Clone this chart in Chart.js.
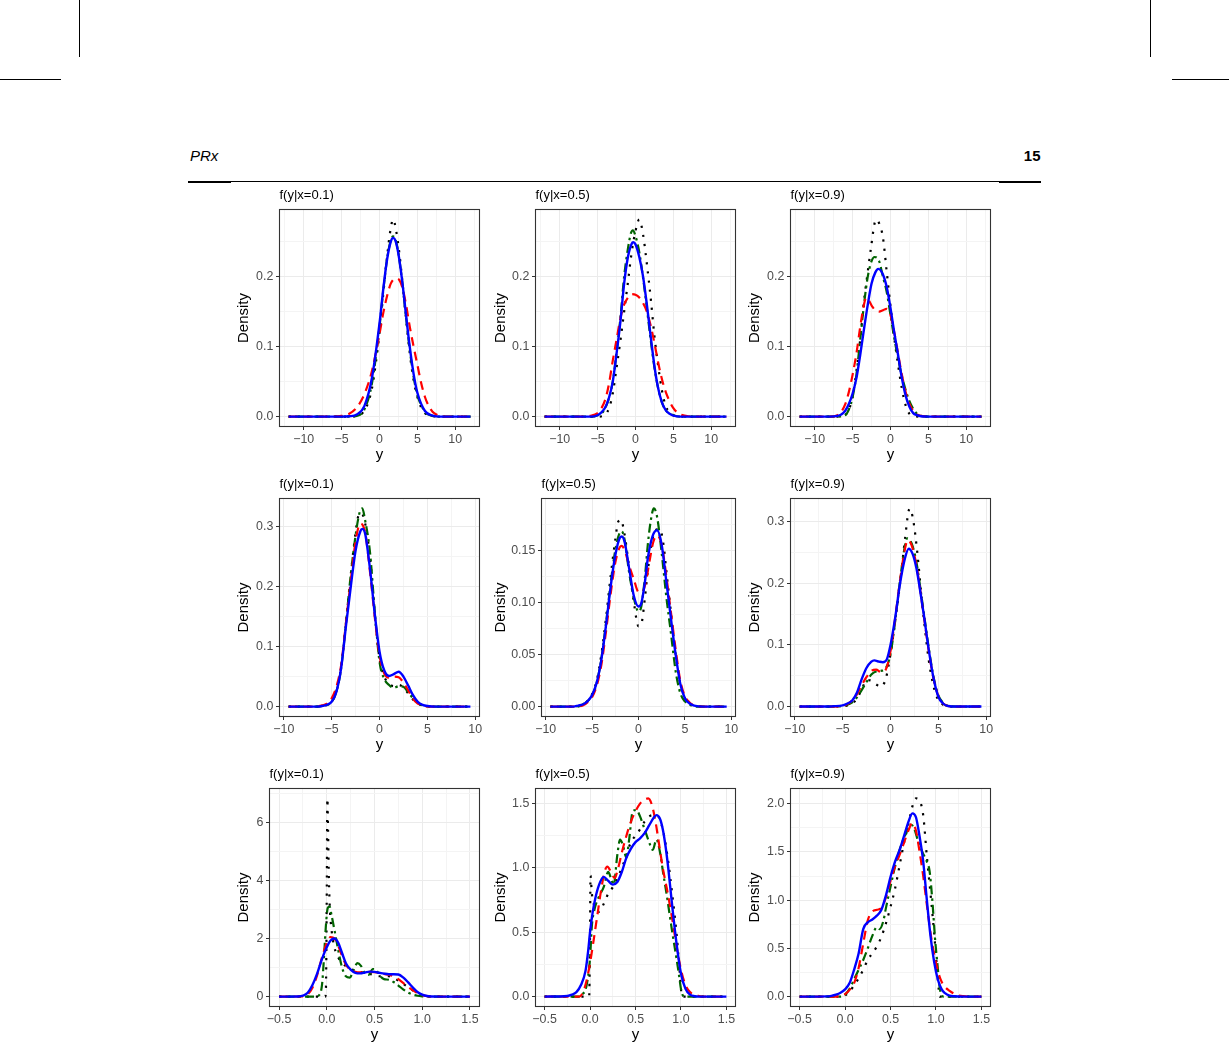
<!DOCTYPE html>
<html><head><meta charset="utf-8">
<script src="https://cdn.jsdelivr.net/npm/chart.js@4.4.1/dist/chart.umd.min.js"></script>
<style>
html,body{margin:0;padding:0;background:#fff;}
body{width:1229px;height:1049px;position:relative;overflow:hidden;font-family:'Liberation Sans',Arial,sans-serif;}
.ln{position:absolute;background:#000;}
canvas{position:absolute;}
.hdr{position:absolute;font-size:15px;line-height:15px;color:#000;white-space:nowrap;}
</style></head>
<body>
<div class="ln" style="left:79px;top:0;width:1px;height:57px"></div>
<div class="ln" style="left:1150px;top:0;width:1px;height:57px"></div>
<div class="ln" style="left:0;top:79px;width:61px;height:1px"></div>
<div class="ln" style="left:1172px;top:79px;width:57px;height:1px"></div>
<div class="ln" style="left:188px;top:181px;width:853px;height:1px"></div>
<div class="ln" style="left:188px;top:181px;width:43px;height:2px"></div>
<div class="ln" style="left:999px;top:181px;width:42px;height:2px"></div>
<div class="hdr" style="left:190px;top:148px;font-style:italic;">PRx</div>
<div class="hdr" style="left:990px;width:50.5px;text-align:right;top:148px;font-weight:bold;">15</div>
<script>
// ---------------- titles & ticks ----------------
const panelTitles = ['f(y|x=0.1)','f(y|x=0.5)','f(y|x=0.9)','f(y|x=0.1)','f(y|x=0.5)','f(y|x=0.9)','f(y|x=0.1)','f(y|x=0.5)','f(y|x=0.9)'];
const seriesNames = ['blue (solid)','red (dashed)','green (dot-dash)','black (dotted)'];

const xMajorA = [-10,-5,0,5,10];
const xLabelsA = ['\u221210','\u22125','0','5','10'];
const xMinorA = [-12.5,-7.5,-2.5,2.5,7.5,12.5];
const xMajorC = [-0.5,0,0.5,1,1.5];
const xLabelsC = ['\u22120.5','0.0','0.5','1.0','1.5'];
const xMinorC = [-0.25,0.25,0.75,1.25];

const yMajor1 = [0,0.1,0.2];           const yLabels1 = ['0.0','0.1','0.2'];           const yMinor1 = [0.05,0.15,0.25];
const yMajor21 = [0,0.1,0.2,0.3];      const yLabels21 = ['0.0','0.1','0.2','0.3'];    const yMinor21 = [0.05,0.15,0.25];
const yMajor22 = [0,0.05,0.1,0.15];    const yLabels22 = ['0.00','0.05','0.10','0.15']; const yMinor22 = [0.025,0.075,0.125,0.175];
const yMajor31 = [0,2,4,6];            const yLabels31 = ['0','2','4','6'];            const yMinor31 = [1,3,5,7];
const yMajor32 = [0,0.5,1,1.5];        const yLabels32 = ['0.0','0.5','1.0','1.5'];    const yMinor32 = [0.25,0.75,1.25];
const yMajor33 = [0,0.5,1,1.5,2];      const yLabels33 = ['0.0','0.5','1.0','1.5','2.0']; const yMinor33 = [0.25,0.75,1.25,1.75];

const xLimA = [-13.2,13.2], xLimB = [-10.45,10.45], xLimC = [-0.6,1.6];
const yLim = [[-0.0141,0.2954],[-0.0141,0.2958],[-0.0141,0.2958],[-0.0165,0.3465],[-0.0095,0.1995],[-0.0161,0.3375],[-0.341,7.161],[-0.077,1.617],[-0.1028,2.158]];

// ---------------- series values [y, density] ----------------
// Row 1
const blue11 = [[-12,0],[-5,0],[-4,0.0005],[-3,0.003],[-2,0.015],[-1,0.055],[0,0.133],[0.5,0.182],[1,0.224],[1.5,0.25],[1.8,0.255],[2.1,0.251],[2.5,0.232],[3,0.193],[3.5,0.145],[4,0.099],[4.5,0.061],[5,0.034],[6,0.008],[7,0.0015],[8,0],[12,0]];
const red11 = [[-12,0],[-6,0],[-5,0.001],[-4,0.004],[-3,0.013],[-2,0.032],[-1,0.065],[0,0.118],[0.5,0.148],[1,0.172],[1.5,0.19],[2.2,0.197],[2.6,0.195],[3,0.185],[3.5,0.16],[4,0.128],[4.5,0.1],[5,0.074],[5.5,0.048],[6,0.028],[6.5,0.015],[7,0.007],[7.5,0.003],[8,0.001],[9,0],[12,0]];
const green11 = [[-12,0],[-4,0],[-3,0.001],[-2,0.01],[-1,0.047],[0,0.128],[0.5,0.18],[1,0.225],[1.5,0.252],[1.8,0.257],[2.1,0.253],[2.5,0.233],[3,0.192],[3.5,0.142],[4,0.095],[4.5,0.057],[5,0.031],[6,0.007],[7,0.001],[8,0],[12,0]];
const black11 = [[-12,0],[-4,0],[-3,0.001],[-2,0.008],[-1.5,0.02],[-1,0.04],[-0.5,0.075],[0,0.12],[0.5,0.175],[1,0.228],[1.4,0.263],[1.8,0.2813],[2.2,0.265],[2.6,0.235],[3,0.195],[3.5,0.14],[4,0.09],[4.5,0.052],[5,0.028],[5.5,0.013],[6,0.005],[7,0.001],[8,0],[12,0]];

const blue12 = [[-12,0],[-6,0],[-5,0.002],[-4.5,0.006],[-4,0.013],[-3.5,0.027],[-3,0.05],[-2.5,0.09],[-2,0.135],[-1.5,0.19],[-1,0.228],[-0.5,0.247],[-0.3,0.249],[0,0.246],[0.5,0.228],[1,0.2],[1.5,0.16],[2,0.115],[2.5,0.072],[3,0.04],[3.5,0.02],[4,0.009],[4.5,0.004],[5,0.0015],[6,0],[12,0]];
const red12 = [[-12,0],[-7,0],[-6,0.001],[-5,0.005],[-4.5,0.012],[-4,0.024],[-3.5,0.047],[-3,0.08],[-2.5,0.11],[-2,0.14],[-1.5,0.16],[-1,0.17],[-0.5,0.175],[0,0.174],[0.5,0.17],[1,0.162],[1.5,0.15],[2,0.13],[2.5,0.105],[3,0.077],[3.5,0.053],[4,0.035],[4.5,0.022],[5,0.012],[5.5,0.006],[6,0.003],[7,0.0005],[8,0],[12,0]];
const green12 = [[-12,0],[-6,0],[-5,0.002],[-4,0.012],[-3,0.05],[-2.5,0.092],[-2,0.14],[-1.5,0.2],[-1,0.24],[-0.6,0.262],[-0.35,0.266],[0,0.258],[0.5,0.235],[1,0.198],[1.5,0.155],[2,0.11],[2.5,0.07],[3,0.04],[3.5,0.02],[4,0.009],[5,0.002],[6,0],[12,0]];
const black12 = [[-12,0],[-5,0],[-4,0.003],[-3.5,0.012],[-3,0.033],[-2.5,0.07],[-2,0.108],[-1.5,0.15],[-1,0.192],[-0.5,0.235],[0,0.265],[0.5,0.2815],[1,0.26],[1.5,0.218],[2,0.17],[2.5,0.115],[3,0.072],[3.5,0.037],[4,0.015],[4.5,0.006],[5,0.002],[6,0],[12,0]];

const blue13 = [[-12,0],[-8,0],[-7,0.001],[-6.5,0.003],[-6,0.008],[-5.5,0.018],[-5,0.033],[-4.5,0.055],[-4,0.088],[-3.5,0.125],[-3,0.16],[-2.5,0.19],[-2,0.206],[-1.6,0.211],[-1,0.203],[-0.5,0.185],[0,0.155],[0.5,0.12],[1,0.088],[1.5,0.055],[2,0.03],[2.5,0.014],[3,0.005],[3.5,0.002],[4,0.0005],[5,0],[12,0]];
const red13 = [[-12,0],[-8,0],[-7,0.002],[-6.5,0.007],[-6,0.017],[-5.5,0.035],[-5,0.06],[-4.5,0.09],[-4,0.128],[-3.5,0.16],[-3.2,0.17],[-2.8,0.165],[-2.4,0.157],[-2,0.152],[-1.5,0.15],[-1,0.152],[-0.5,0.154],[0,0.145],[0.5,0.12],[1,0.09],[1.5,0.06],[2,0.035],[2.5,0.018],[3,0.008],[3.5,0.003],[4,0.001],[5,0.0005],[6,0],[12,0]];
const green13 = [[-12,0],[-7,0],[-6,0.002],[-5.5,0.01],[-5,0.028],[-4.5,0.06],[-4,0.11],[-3.5,0.16],[-3,0.2],[-2.5,0.222],[-2.1,0.228],[-1.5,0.222],[-1,0.2],[-0.5,0.178],[0,0.145],[0.5,0.112],[1,0.083],[1.5,0.058],[2,0.038],[2.5,0.022],[3,0.011],[3.5,0.004],[4,0.001],[5,0],[12,0]];
const black13 = [[-12,0],[-7,0],[-6,0.002],[-5.5,0.01],[-5,0.028],[-4.5,0.065],[-4,0.11],[-3.5,0.165],[-3,0.207],[-2.5,0.247],[-2.1,0.276],[-1.8,0.2815],[-1.5,0.276],[-1,0.256],[-0.5,0.207],[0,0.158],[0.5,0.112],[1,0.074],[1.5,0.04],[2,0.016],[2.5,0.004],[3,0.001],[4,0],[12,0]];

// Row 2
const blue21 = [[-9.5,0],[-6.5,0],[-6,0.001],[-5.5,0.003],[-5,0.008],[-4.5,0.025],[-4,0.065],[-3.5,0.135],[-3,0.2],[-2.5,0.26],[-2,0.292],[-1.8,0.296],[-1.5,0.288],[-1,0.23],[-0.5,0.155],[0,0.092],[0.5,0.06],[1,0.051],[1.5,0.054],[2,0.058],[2.5,0.05],[3,0.035],[3.5,0.019],[4,0.008],[4.5,0.003],[5,0.001],[6,0],[9.5,0]];
const red21 = [[-9.5,0],[-7,0],[-6,0.002],[-5.5,0.005],[-5,0.014],[-4.5,0.033],[-4,0.07],[-3.5,0.14],[-3,0.21],[-2.5,0.275],[-2,0.305],[-1.5,0.29],[-1,0.225],[-0.5,0.15],[0,0.085],[0.5,0.055],[1,0.048],[1.5,0.05],[2,0.049],[2.5,0.04],[3,0.027],[3.5,0.013],[4,0.005],[4.5,0.002],[5,0.0005],[6,0],[9.5,0]];
const green21 = [[-9.5,0],[-6.5,0],[-6,0.001],[-5,0.008],[-4.5,0.025],[-4,0.065],[-3.5,0.14],[-3,0.22],[-2.5,0.285],[-2.1,0.322],[-1.8,0.33],[-1.5,0.31],[-1,0.258],[-0.5,0.16],[0,0.075],[0.5,0.046],[1,0.036],[1.5,0.031],[2,0.034],[2.5,0.033],[3,0.024],[3.5,0.014],[4,0.006],[4.5,0.002],[5,0.0005],[6,0],[9.5,0]];
const black21 = [[-9.5,0],[-6.5,0],[-6,0.001],[-5,0.008],[-4.5,0.026],[-4,0.066],[-3.5,0.14],[-3,0.22],[-2.5,0.29],[-2.2,0.318],[-1.9,0.322],[-1.5,0.305],[-1,0.25],[-0.5,0.155],[0,0.08],[0.5,0.05],[1,0.038],[1.5,0.034],[2,0.036],[2.5,0.032],[3,0.022],[3.5,0.012],[4,0.005],[4.5,0.002],[5,0],[9.5,0]];

const blue22 = [[-9.5,0],[-7,0],[-6.5,0.001],[-6,0.002],[-5.5,0.005],[-5,0.011],[-4.5,0.023],[-4,0.045],[-3.5,0.078],[-3,0.115],[-2.5,0.145],[-2,0.162],[-1.8,0.163],[-1.5,0.158],[-1,0.132],[-0.5,0.106],[0,0.096],[0.3,0.099],[0.7,0.12],[1,0.142],[1.5,0.163],[2,0.169],[2.5,0.155],[3,0.12],[3.5,0.084],[4,0.05],[4.5,0.022],[5,0.008],[5.5,0.003],[6,0.001],[7,0],[9.5,0]];
const red22 = [[-9.5,0],[-7,0],[-6,0.001],[-5.5,0.004],[-5,0.009],[-4.5,0.02],[-4,0.04],[-3.5,0.072],[-3,0.108],[-2.5,0.138],[-2,0.153],[-1.8,0.154],[-1.5,0.15],[-1,0.135],[-0.5,0.122],[0,0.11],[0.4,0.11],[0.8,0.12],[1.2,0.14],[1.6,0.158],[2,0.164],[2.5,0.155],[3,0.125],[3.5,0.09],[4,0.055],[4.5,0.025],[5,0.01],[5.5,0.004],[6,0.001],[7,0],[9.5,0]];
const green22 = [[-9.5,0],[-7,0],[-6,0.002],[-5,0.011],[-4.5,0.023],[-4,0.046],[-3.5,0.08],[-3,0.118],[-2.5,0.15],[-2,0.167],[-1.8,0.168],[-1.5,0.16],[-1,0.128],[-0.5,0.104],[0,0.091],[0.3,0.096],[0.7,0.125],[1,0.155],[1.3,0.177],[1.65,0.19],[2,0.182],[2.5,0.147],[3,0.105],[3.5,0.07],[4,0.034],[4.5,0.013],[5,0.005],[5.5,0.002],[6,0],[9.5,0]];
const black22 = [[-9.5,0],[-7,0],[-6,0.002],[-5,0.012],[-4.5,0.025],[-4,0.05],[-3.5,0.085],[-3,0.125],[-2.5,0.16],[-2.2,0.177],[-1.9,0.179],[-1.5,0.165],[-1,0.133],[-0.5,0.1],[0,0.077],[0.3,0.079],[0.7,0.105],[1,0.13],[1.5,0.16],[2,0.17],[2.3,0.17],[2.7,0.155],[3,0.13],[3.5,0.09],[4,0.05],[4.5,0.022],[5,0.008],[5.5,0.003],[6,0.001],[7,0],[9.5,0]];

const blue23 = [[-9.5,0],[-6.5,0],[-6,0.0005],[-5,0.002],[-4.5,0.005],[-4,0.01],[-3.5,0.023],[-3,0.045],[-2.5,0.063],[-2,0.073],[-1.7,0.075],[-1.2,0.073],[-0.8,0.072],[-0.4,0.076],[0,0.1],[0.5,0.145],[1,0.2],[1.5,0.24],[1.9,0.256],[2.3,0.248],[2.7,0.225],[3,0.198],[3.5,0.147],[4,0.092],[4.5,0.046],[5,0.016],[5.5,0.005],[6,0.001],[7,0],[9.5,0]];
const red23 = [[-9.5,0],[-6,0],[-5,0.001],[-4.5,0.004],[-4,0.01],[-3.5,0.02],[-3,0.035],[-2.5,0.048],[-2,0.058],[-1.5,0.06],[-1,0.056],[-0.5,0.06],[0,0.09],[0.5,0.145],[1,0.205],[1.5,0.255],[1.8,0.27],[2.2,0.262],[2.7,0.23],[3,0.2],[3.5,0.145],[4,0.09],[4.5,0.045],[5,0.017],[5.5,0.005],[6,0.001],[7,0],[9.5,0]];
const green23 = [[-9.5,0],[-6,0],[-5,0.001],[-4.5,0.003],[-4,0.007],[-3.5,0.015],[-3,0.027],[-2.5,0.04],[-2,0.052],[-1.5,0.057],[-1,0.058],[-0.5,0.062],[0,0.085],[0.5,0.14],[1,0.205],[1.5,0.26],[1.75,0.273],[2.2,0.265],[2.7,0.235],[3,0.205],[3.5,0.15],[4,0.095],[4.5,0.048],[5,0.018],[5.5,0.006],[6,0.001],[7,0],[9.5,0]];
const black23 = [[-9.5,0],[-6,0],[-5,0.0005],[-4.5,0.002],[-4,0.005],[-3.5,0.013],[-3,0.028],[-2.5,0.043],[-2,0.042],[-1.5,0.036],[-1,0.032],[-0.5,0.045],[0,0.085],[0.5,0.14],[1,0.2],[1.5,0.27],[2,0.321],[2.4,0.3],[2.8,0.25],[3.2,0.185],[3.5,0.14],[4,0.075],[4.5,0.033],[5,0.01],[5.5,0.003],[6,0],[9.5,0]];

// Row 3
const blue31 = [[-0.5,0],[-0.3,0.005],[-0.25,0.03],[-0.2,0.13],[-0.15,0.4],[-0.1,0.8],[-0.05,1.3],[0,1.7],[0.04,1.93],[0.08,2.0],[0.12,1.85],[0.16,1.5],[0.2,1.15],[0.25,0.93],[0.3,0.82],[0.35,0.8],[0.4,0.83],[0.45,0.86],[0.5,0.85],[0.55,0.82],[0.6,0.79],[0.65,0.77],[0.7,0.77],[0.75,0.76],[0.8,0.66],[0.85,0.5],[0.9,0.32],[0.95,0.16],[1,0.07],[1.05,0.02],[1.1,0.005],[1.2,0],[1.5,0]];
const red31 = [[-0.5,0],[-0.25,0.01],[-0.2,0.08],[-0.15,0.3],[-0.1,0.75],[-0.05,1.35],[0,1.85],[0.04,2.05],[0.08,2.0],[0.12,1.75],[0.16,1.4],[0.2,1.1],[0.25,0.92],[0.3,0.85],[0.35,0.83],[0.4,0.84],[0.45,0.85],[0.5,0.84],[0.55,0.82],[0.6,0.78],[0.65,0.75],[0.7,0.7],[0.75,0.6],[0.8,0.47],[0.85,0.34],[0.9,0.22],[0.95,0.12],[1,0.05],[1.05,0.015],[1.1,0],[1.5,0]];
const green31 = [[-0.5,0],[-0.12,0],[-0.08,0.05],[-0.05,0.4],[-0.03,1.3],[-0.01,2.4],[0.01,3.05],[0.03,3.1],[0.05,2.8],[0.08,2.3],[0.12,1.6],[0.16,1.0],[0.2,0.7],[0.24,0.65],[0.28,0.9],[0.32,1.15],[0.36,1.05],[0.4,0.8],[0.44,0.75],[0.48,0.95],[0.52,0.9],[0.56,0.7],[0.6,0.6],[0.65,0.58],[0.7,0.5],[0.75,0.38],[0.8,0.25],[0.85,0.14],[0.9,0.07],[0.95,0.03],[1,0.01],[1.05,0],[1.5,0]];
const black31 = [[-0.5,0],[-0.015,0],[-0.008,0.4],[0,3.6],[0.006,6.82],[0.013,5.8],[0.02,4.4],[0.03,3.2],[0.05,2.3],[0.08,1.7],[0.12,1.35],[0.18,1.1],[0.25,0.95],[0.35,0.85],[0.45,0.78],[0.55,0.7],[0.65,0.7],[0.75,0.55],[0.85,0.33],[0.95,0.12],[1,0.05],[1.05,0.01],[1.1,0],[1.5,0]];

const blue32 = [[-0.5,0],[-0.25,0.005],[-0.2,0.015],[-0.15,0.035],[-0.1,0.09],[-0.05,0.2],[-0.02,0.36],[0,0.5],[0.03,0.66],[0.06,0.77],[0.1,0.87],[0.15,0.93],[0.2,0.9],[0.25,0.87],[0.3,0.89],[0.35,0.97],[0.4,1.08],[0.45,1.15],[0.5,1.2],[0.55,1.23],[0.6,1.27],[0.65,1.33],[0.7,1.39],[0.73,1.41],[0.77,1.38],[0.8,1.3],[0.83,1.17],[0.86,1.0],[0.9,0.73],[0.95,0.42],[1,0.18],[1.05,0.06],[1.1,0.015],[1.15,0.003],[1.2,0],[1.5,0]];
const red32 = [[-0.5,0],[-0.12,0],[-0.08,0.03],[-0.04,0.12],[0,0.26],[0.04,0.44],[0.08,0.63],[0.12,0.82],[0.16,0.97],[0.19,1.01],[0.23,0.97],[0.27,0.92],[0.31,1.0],[0.35,1.12],[0.4,1.25],[0.45,1.36],[0.5,1.44],[0.55,1.5],[0.6,1.53],[0.64,1.54],[0.68,1.49],[0.72,1.36],[0.76,1.18],[0.8,1.0],[0.85,0.82],[0.9,0.62],[0.95,0.4],[1,0.21],[1.05,0.09],[1.1,0.035],[1.15,0.012],[1.2,0.004],[1.25,0],[1.5,0]];
const green32 = [[-0.5,0],[-0.12,0],[-0.08,0.02],[-0.04,0.08],[0,0.3],[0.02,0.55],[0.05,0.68],[0.1,0.78],[0.15,0.85],[0.2,0.97],[0.23,0.92],[0.26,0.87],[0.3,1.1],[0.33,1.22],[0.36,1.18],[0.4,1.08],[0.43,1.22],[0.47,1.44],[0.51,1.45],[0.55,1.4],[0.6,1.3],[0.65,1.2],[0.69,1.14],[0.73,1.22],[0.77,1.12],[0.8,0.98],[0.85,0.76],[0.9,0.52],[0.95,0.3],[0.98,0.16],[1,0.06],[1.02,0.01],[1.05,0],[1.5,0]];
const black32 = [[-0.5,0],[-0.01,0],[0,0.5],[0.005,0.94],[0.02,0.8],[0.05,0.7],[0.1,0.66],[0.15,0.72],[0.2,0.8],[0.25,0.85],[0.3,0.92],[0.35,1.0],[0.4,1.1],[0.45,1.2],[0.5,1.25],[0.55,1.3],[0.6,1.36],[0.65,1.4],[0.7,1.41],[0.75,1.4],[0.8,1.3],[0.85,1.1],[0.9,0.82],[0.95,0.5],[0.98,0.25],[1,0.06],[1.01,0],[1.5,0]];

const blue33 = [[-0.5,0],[-0.2,0.002],[-0.15,0.008],[-0.1,0.02],[-0.05,0.04],[0,0.075],[0.05,0.14],[0.1,0.28],[0.15,0.45],[0.2,0.7],[0.25,0.77],[0.3,0.8],[0.35,0.84],[0.4,0.9],[0.45,1.05],[0.5,1.24],[0.55,1.4],[0.6,1.52],[0.65,1.67],[0.7,1.82],[0.74,1.9],[0.78,1.86],[0.82,1.66],[0.86,1.4],[0.9,1.0],[0.94,0.63],[0.98,0.36],[1.02,0.18],[1.06,0.08],[1.1,0.035],[1.15,0.01],[1.2,0.003],[1.3,0],[1.5,0]];
const red33 = [[-0.5,0],[-0.1,0],[-0.05,0.005],[0,0.025],[0.05,0.07],[0.1,0.14],[0.15,0.3],[0.2,0.55],[0.25,0.79],[0.3,0.88],[0.35,0.9],[0.4,0.92],[0.45,1.03],[0.5,1.2],[0.55,1.35],[0.6,1.47],[0.65,1.6],[0.7,1.73],[0.74,1.8],[0.78,1.72],[0.82,1.5],[0.86,1.25],[0.9,0.95],[0.95,0.6],[1,0.35],[1.05,0.18],[1.1,0.1],[1.15,0.06],[1.2,0.03],[1.25,0.012],[1.3,0.004],[1.35,0],[1.5,0]];
const green33 = [[-0.5,0],[-0.05,0],[0,0.02],[0.05,0.08],[0.1,0.18],[0.15,0.28],[0.2,0.38],[0.25,0.5],[0.3,0.63],[0.35,0.72],[0.38,0.7],[0.42,0.78],[0.45,0.92],[0.5,1.14],[0.55,1.35],[0.6,1.52],[0.65,1.65],[0.7,1.75],[0.73,1.78],[0.77,1.72],[0.8,1.62],[0.85,1.5],[0.9,1.4],[0.93,1.3],[0.96,1.0],[0.99,0.6],[1.02,0.3],[1.04,0.1],[1.06,0.02],[1.08,0],[1.5,0]];
const black33 = [[-0.5,0],[-0.02,0],[0,0.01],[0.05,0.05],[0.1,0.12],[0.15,0.19],[0.2,0.28],[0.25,0.38],[0.3,0.45],[0.35,0.52],[0.4,0.62],[0.45,0.76],[0.5,0.93],[0.55,1.12],[0.6,1.36],[0.65,1.6],[0.7,1.8],[0.74,1.97],[0.78,2.055],[0.82,2.03],[0.86,1.88],[0.9,1.45],[0.94,1.07],[0.98,0.66],[1.01,0.31],[1.03,0.08],[1.04,0],[1.5,0]];

// ---------------- layout (page positions of each panel's plot area) ----------------
const geom = [
  {L:279.5,R:479.5,T:209.5,B:426.5,cx:243.8},
  {L:535.5,R:735.5,T:209.5,B:426.5,cx:500.5},
  {L:790.5,R:990.5,T:209.5,B:426.5,cx:754.8},
  {L:279.5,R:479.5,T:498.5,B:716.5,cx:243.8},
  {L:541.5,R:735.5,T:498.5,B:716.5,cx:500.5},
  {L:790.5,R:990.5,T:498.5,B:716.5,cx:754.8},
  {L:269.5,R:479.5,T:788.5,B:1006.5,cx:243.8},
  {L:535.5,R:735.5,T:788.5,B:1006.5,cx:500.5},
  {L:790.5,R:990.5,T:788.5,B:1006.5,cx:754.8}
];

const panelSeries = [
  [blue11,red11,green11,black11],[blue12,red12,green12,black12],[blue13,red13,green13,black13],
  [blue21,red21,green21,black21],[blue22,red22,green22,black22],[blue23,red23,green23,black23],
  [blue31,red31,green31,black31],[blue32,red32,green32,black32],[blue33,red33,green33,black33]
];
const panelX = [
  [xMajorA,xLabelsA,xMinorA,xLimA],[xMajorA,xLabelsA,xMinorA,xLimA],[xMajorA,xLabelsA,xMinorA,xLimA],
  [xMajorA,xLabelsA,xMinorA,xLimB],[xMajorA,xLabelsA,xMinorA,xLimB],[xMajorA,xLabelsA,xMinorA,xLimB],
  [xMajorC,xLabelsC,xMinorC,xLimC],[xMajorC,xLabelsC,xMinorC,xLimC],[xMajorC,xLabelsC,xMinorC,xLimC]
];
const panelY = [
  [yMajor1,yLabels1,yMinor1],[yMajor1,yLabels1,yMinor1],[yMajor1,yLabels1,yMinor1],
  [yMajor21,yLabels21,yMinor21],[yMajor22,yLabels22,yMinor22],[yMajor21,yLabels21,yMinor21],
  [yMajor31,yLabels31,yMinor31],[yMajor32,yLabels32,yMinor32],[yMajor33,yLabels33,yMinor33]
];

const seriesStyle = [
  {color:'#0000FF', width:2.4, dash:[]},
  {color:'#FF0000', width:2.2, dash:[9,6]},
  {color:'#006400', width:2.2, dash:[2.5,4,9,4]},
  {color:'#000000', width:2.2, dash:[2.2,7]}
];

Chart.defaults.font.family = "'Liberation Sans', Arial, Helvetica, sans-serif";

const framePlugin = {
  id: 'panelFrame',
  afterDatasetsDraw(chart, args, opts) {
    const {ctx, chartArea: a} = chart;
    ctx.save();
    ctx.strokeStyle = '#333333';
    ctx.lineWidth = 1.1;
    ctx.strokeRect(a.left, a.top, a.right - a.left, a.bottom - a.top);
    ctx.fillStyle = '#000';
    ctx.font = "13px 'Liberation Sans', Arial, sans-serif";
    ctx.textAlign = 'left';
    ctx.textBaseline = 'alphabetic';
    ctx.fillText(opts.text, a.left, a.top - 11);
    ctx.restore();
  }
};

function tickList(major, labels, minor, lo, hi) {
  const t = major.map((v, i) => ({value: v, lab: labels[i], minor: false}));
  minor.forEach(v => t.push({value: v, lab: '', minor: true}));
  return t.filter(o => o.value >= lo && o.value <= hi).sort((a, b) => a.value - b.value);
}

const gridOpts = {
  color: c => (c.tick && c.tick.minor) ? '#F4F4F4' : '#EBEBEB',
  lineWidth: 1,
  drawTicks: true,
  tickLength: 3.5,
  tickWidth: 1,
  tickColor: c => (c.tick && c.tick.minor) ? 'rgba(0,0,0,0)' : '#333333'
};

function makePanel(i) {
  const g = geom[i];
  const CL = Math.floor(g.cx - 14);
  const CT = Math.floor(g.T) - 36;
  const CW = Math.ceil(g.R) + 24 - CL;
  const CH = Math.ceil(g.B) + 48 - CT;
  const yW = g.L - CL;
  const padT = g.T - CT;
  const padR = CL + CW - g.R;
  const xH = CT + CH - g.B;
  const cv = document.createElement('canvas');
  cv.width = CW; cv.height = CH;
  cv.style.left = CL + 'px'; cv.style.top = CT + 'px';
  cv.style.width = CW + 'px'; cv.style.height = CH + 'px';
  document.body.appendChild(cv);
  const [xMaj, xLab, xMin, xLim] = panelX[i];
  const [yMaj, yLab, yMin] = panelY[i];
  const datasets = panelSeries[i].map((s, k) => ({
    label: seriesNames[k],
    data: s.map(p => ({x: p[0], y: p[1]})),
    borderColor: seriesStyle[k].color,
    borderWidth: seriesStyle[k].width,
    borderDash: seriesStyle[k].dash,
    borderCapStyle: 'butt',
    borderJoinStyle: 'round',
    pointRadius: 0,
    fill: false,
    cubicInterpolationMode: 'monotone'
  }));
  new Chart(cv, {
    type: 'line',
    data: {datasets},
    options: {
      responsive: false,
      animation: false,
      devicePixelRatio: 1,
      events: [],
      layout: {padding: {left: 0, top: padT, right: padR, bottom: 0}},
      plugins: {legend: {display: false}, tooltip: {enabled: false}, title: {display: false}, panelFrame: {text: panelTitles[i]}},
      scales: {
        x: {
          type: 'linear', min: xLim[0], max: xLim[1],
          afterFit: s => { s.height = xH; },
          afterBuildTicks: s => { s.ticks = tickList(xMaj, xLab, xMin, xLim[0], xLim[1]); },
          ticks: {autoSkip: false, maxRotation: 0, minRotation: 0, padding: 2, color: '#4D4D4D', font: {size: 12.4},
                  callback: (v, idx, ticks) => ticks[idx].lab},
          grid: gridOpts,
          border: {display: false},
          title: {display: true, text: 'y', color: '#000', font: {size: 15}, padding: {top: 0, bottom: xH - 9 - 28.6}}
        },
        y: {
          type: 'linear', min: yLim[i][0], max: yLim[i][1],
          afterFit: s => { s.width = yW; },
          afterBuildTicks: s => { s.ticks = tickList(yMaj, yLab, yMin, yLim[i][0], yLim[i][1]); },
          ticks: {autoSkip: false, padding: 2.7, color: '#4D4D4D', font: {size: 12.4},
                  callback: (v, idx, ticks) => ticks[idx].lab},
          grid: gridOpts,
          border: {display: false},
          title: {display: true, text: 'Density', color: '#000', font: {size: 15}, padding: {top: g.cx - CL - 9, bottom: 0}}
        }
      }
    },
    plugins: [framePlugin]
  });
}

for (let i = 0; i < 9; i++) makePanel(i);
</script>
</body></html>
